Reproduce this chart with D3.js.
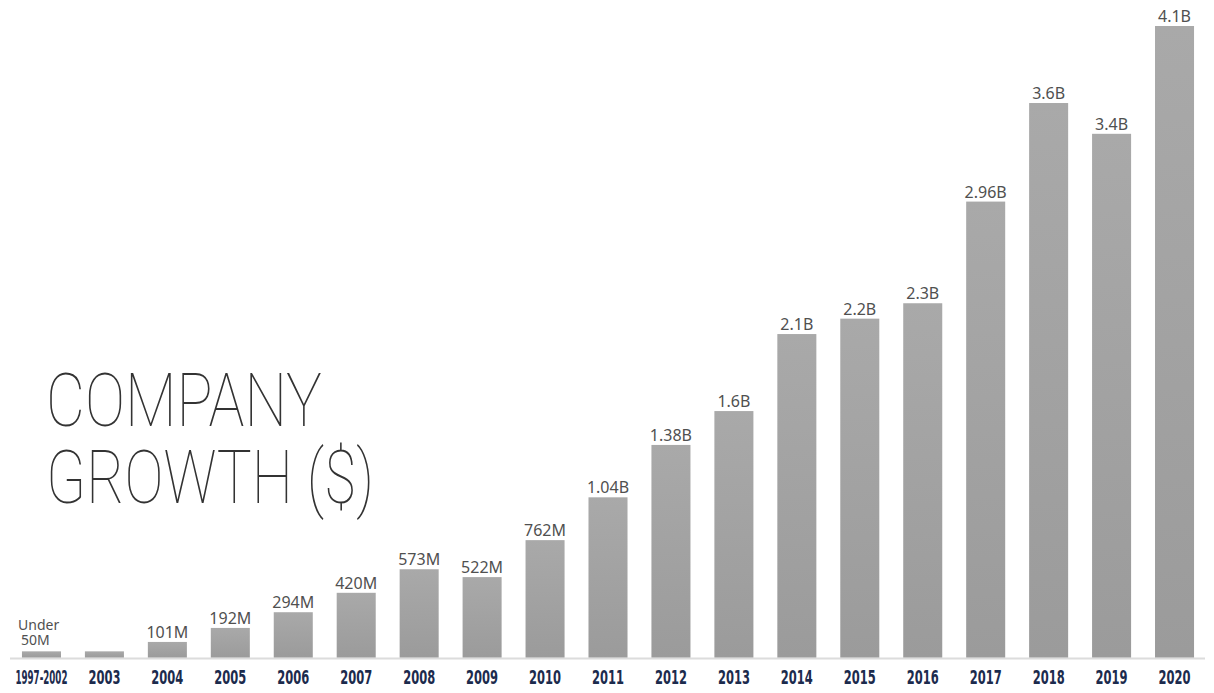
<!DOCTYPE html>
<html><head><meta charset="utf-8">
<script src="https://cdn.jsdelivr.net/npm/d3@7"></script>
<style>
html,body{margin:0;padding:0;background:#fff;}
svg{display:block;}
</style></head>
<body>
<svg id="chart" width="1214" height="693"></svg>
<script>
const categories = ["1997-2002","2003","2004","2005","2006","2007","2008","2009","2010","2011","2012","2013","2014","2015","2016","2017","2018","2019","2020"];
const valuesB = [0.04,0.04,0.101,0.192,0.294,0.42,0.573,0.522,0.762,1.04,1.38,1.6,2.1,2.2,2.3,2.96,3.6,3.4,4.1];
const valueLabels = ["Under\n50M","","101M","192M","294M","420M","573M","522M","762M","1.04B","1.38B","1.6B","2.1B","2.2B","2.3B","2.96B","3.6B","3.4B","4.1B"];
const titleLines = ["COMPANY","GROWTH ($)"];

const svg = d3.select("#chart");
const baseY = 657.5;
const x = d3.scaleBand().domain(categories).range([10,1206]).paddingInner(0.38).paddingOuter(0.19);
const y = d3.scaleLinear().domain([0,4.1]).range([baseY,26]);

const defs = svg.append("defs");
const grad = defs.append("linearGradient").attr("id","barg").attr("x1",0).attr("y1",0).attr("x2",0).attr("y2",1);
grad.append("stop").attr("offset","0%").attr("stop-color","#a9a9a9");
grad.append("stop").attr("offset","100%").attr("stop-color","#9b9b9b");

// baseline
svg.append("line").attr("x1",10).attr("x2",1205).attr("y1",baseY+1).attr("y2",baseY+1)
  .attr("stroke","#dcdcdc").attr("stroke-width",2);

// title
svg.append("g").selectAll("text").data(titleLines).join("text")
  .attr("x",46).attr("y",(d,i)=>426+i*77)
  .attr("font-family","Roboto").attr("font-weight",100)
  .attr("font-size",74).attr("fill","#333")
  .attr("textLength",(d,i)=>i===0?276:328).attr("lengthAdjust","spacingAndGlyphs")
  .text(d=>d);

// bars
svg.append("g").selectAll("rect").data(valuesB).join("rect")
  .attr("x",(d,i)=>x(categories[i])).attr("width",x.bandwidth())
  .attr("y",d=>y(d)).attr("height",d=>baseY-y(d))
  .attr("fill","url(#barg)");

// value labels
const lg = svg.append("g").attr("font-family","Noto Sans, Open Sans, sans-serif").attr("font-size",16).attr("fill","#505050");
valueLabels.forEach((lab,i)=>{
  if(!lab) return;
  const cx = x(categories[i]) + x.bandwidth()/2;
  const lines = lab.split("\n");
  if(lines.length>1){
    lines.forEach((ln,j)=>{
      lg.append("text").attr("x",18+j*3).attr("font-size",14)
        .attr("y", y(valuesB[i]) - 6 - (lines.length-1-j)*15).text(ln);
    });
  } else {
    lg.append("text").attr("text-anchor","middle").attr("x",cx)
      .attr("y", y(valuesB[i]) - 4).text(lab);
  }
});

// year axis
const axis = d3.axisBottom(x).tickSize(0).tickPadding(0);
const ag = svg.append("g").attr("transform",`translate(0,${baseY})`).call(axis);
ag.select(".domain").remove();
ag.selectAll("text").attr("y",0).attr("dy",0)
  .attr("font-family","Liberation Sans Narrow, DejaVu Sans Condensed, sans-serif")
  .attr("font-weight","bold").attr("font-size",19).attr("fill","#1c2b4d")
  .each(function(d){
    const target = d.length>4?52:32;
    const w = this.getComputedTextLength();
    d3.select(this).attr("transform",`translate(0,26) scale(${target/w},1)`);
  });
</script>
</body></html>
